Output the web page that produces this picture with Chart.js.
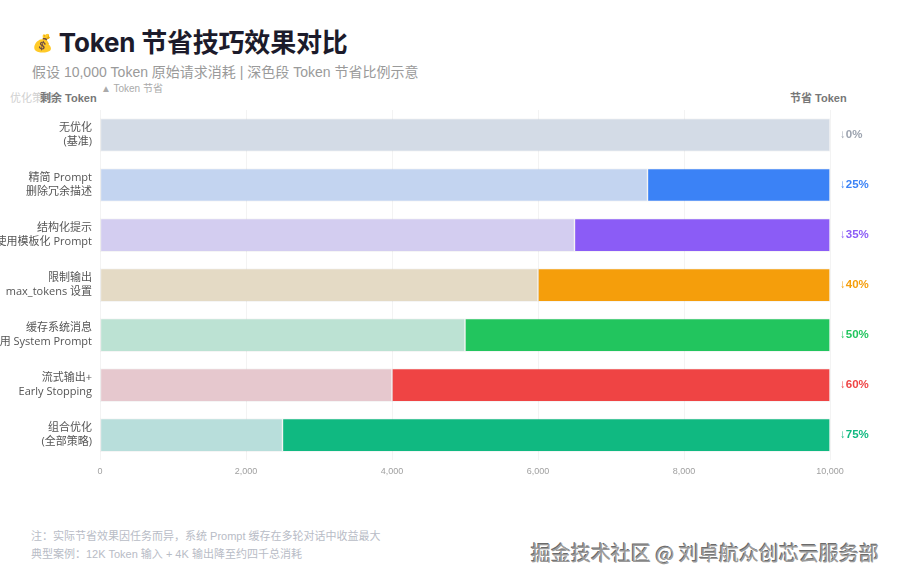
<!DOCTYPE html>
<html>
<head>
<meta charset="utf-8">
<script src="https://cdn.jsdelivr.net/npm/chart.js@4.4.1/dist/chart.umd.min.js"></script>
<style>
  html, body { margin: 0; padding: 0; background: #fff; }
  body { width: 900px; height: 580px; position: relative; overflow: hidden;
         font-family: "Liberation Sans", "Noto Sans CJK SC", sans-serif; }
  .title { position: absolute; left: 32px; top: 22px; font-size: 26px; font-weight: 700;
           color: #1c1b2b; font-family: "Inter", "Noto Sans CJK SC", sans-serif; letter-spacing: -0.2px; }
  .title .ico { font-size: 17px; vertical-align: 3px; }
  .sub { position: absolute; left: 32px; top: 61px; font-size: 14px; color: #9a9a9a; }
  .legend { position: absolute; left: 101px; top: 80px; font-size: 10px; color: #aaa; }
  .hdr { position: absolute; top: 89px; font-size: 11px; font-weight: 700; color: #777; }
  .note { position: absolute; left: 31px; font-size: 11px; color: #b8bcc6; }
  .mark { position: absolute; left: 531px; top: 538px; font-size: 20px; color: #9a9a9a;
          font-family: "Noto Sans CJK SC", sans-serif;
          text-shadow: 1px 1px 0 #fff, -1px -1px 0 #6a6a6a; }
  #wrap { position: absolute; left: 0; top: 110px; width: 900px; height: 373px; }
</style>
</head>
<body>
<div class="title"><span class="ico">💰</span> Token 节省技巧效果对比</div>
<div class="sub">假设 10,000 Token 原始请求消耗 | 深色段 Token 节省比例示意</div>
<div class="legend">▲ Token 节省</div>
<div class="hdr" style="left:10px;color:#d0d0d0;font-weight:400">优化策略</div>
<div class="hdr" style="left:40px">剩余 Token</div>
<div class="hdr" style="left:790px">节省 Token</div>
<div id="wrap"><canvas id="tokenChart"></canvas></div>
<div class="note" style="top:527px">注：实际节省效果因任务而异，系统 Prompt 缓存在多轮对话中收益最大</div>
<div class="note" style="top:545px">典型案例：12K Token 输入 + 4K 输出降至约四千总消耗</div>
<div class="mark">掘金技术社区 @ 刘卓航众创芯云服务部</div>

<script>
const BASE = 10000;

const labels = [
    ['无优化', '(基准)'],
    ['精简 Prompt', '删除冗余描述'],
    ['结构化提示', '使用模板化 Prompt'],
    ['限制输出', 'max_tokens 设置'],
    ['缓存系统消息', '复用 System Prompt'],
    ['流式输出+', 'Early Stopping'],
    ['组合优化', '(全部策略)']
];

// 剩余 Token / 节省 Token
const remaining = [10000, 7500, 6500, 6000, 5000, 4000, 2500];
const saved = [0, 2500, 3500, 4000, 5000, 6000, 7500];

const xTicks = [0, 2000, 4000, 6000, 8000, 10000];

const lightColors = ['#d3dbe6', '#c3d4f0', '#d3cdf0', '#e4dac5', '#bce2d3', '#e6c8ce', '#b8dedb'];
const darkColors = ['#cbd5e1', '#3b82f6', '#8b5cf6', '#f59e0b', '#22c55e', '#ef4444', '#10b981'];
const pctColors = ['#9ca3af', '#3b82f6', '#8b5cf6', '#f59e0b', '#22c55e', '#ef4444', '#10b981'];

// 오른쪽 퍼센트 라벨
const pctLabels = {
    id: 'pctLabels',
    afterDatasetsDraw(chart) {
        const { ctx, chartArea, scales } = chart;
        ctx.save();
        ctx.font = 'bold 11.5px "Liberation Sans", sans-serif';
        ctx.textBaseline = 'middle';
        ctx.textAlign = 'left';
        saved.forEach((v, i) => {
            const y = scales.y.getPixelForValue(i);
            ctx.fillStyle = pctColors[i];
            ctx.fillText('↓' + Math.round(v / BASE * 100) + '%', chartArea.right + 10, y);
        });
        ctx.restore();
    }
};

// eslint-disable-next-line no-undef
new Chart(document.getElementById('tokenChart'), {
    type: 'bar',
    data: {
        labels,
        datasets: [
            {
                label: '剩余 Token',
                data: remaining,
                backgroundColor: lightColors,
                borderColor: 'rgba(0,0,0,0.04)',
                borderWidth: 1,
                borderSkipped: false,
                barThickness: 33
            },
            {
                label: '节省 Token',
                data: saved,
                backgroundColor: darkColors,
                borderColor: 'rgba(0,0,0,0.04)',
                borderWidth: 1,
                borderSkipped: false,
                barThickness: 33
            }
        ]
    },
    options: {
        indexAxis: 'y',
        responsive: true,
        maintainAspectRatio: false,
        animation: false,
        layout: { padding: { left: 0, right: 70, top: 0, bottom: 0 } },
        scales: {
            x: {
                stacked: true,
                min: 0,
                max: BASE,
                afterBuildTicks: (scale) => { scale.ticks = xTicks.map(v => ({ value: v })); },
                afterFit: (scale) => { scale.paddingLeft = 0; scale.paddingRight = 0; },
                grid: { color: '#f3f3f3', drawTicks: false },
                border: { display: false },
                ticks: {
                    padding: 6,
                    color: '#a0a0a0',
                    maxRotation: 0,
                    font: { size: 9, family: '"Liberation Sans", sans-serif' },
                    callback: (v) => Number(v).toLocaleString('en-US')
                }
            },
            y: {
                stacked: true,
                grid: { display: false, drawTicks: false },
                border: { display: false },
                afterFit: (scale) => {
                    scale.width = 100;
                    scale.paddingTop = 0;
                    scale.paddingBottom = 0;
                },
                ticks: {
                    padding: 8,
                    color: '#555',
                    font: { size: 11, lineHeight: 1.25, family: '"Open Sans", "Noto Sans CJK SC", sans-serif' }
                }
            }
        },
        plugins: {
            legend: { display: false },
            tooltip: { enabled: false }
        }
    },
    plugins: [pctLabels]
});
</script>
</body>
</html>
